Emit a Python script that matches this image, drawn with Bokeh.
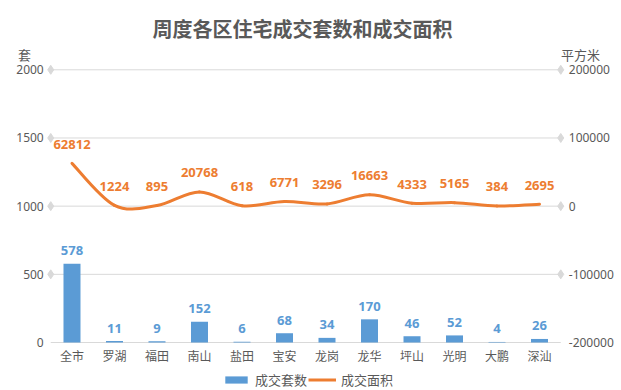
from bokeh.plotting import figure
from bokeh.models import Range1d, ColumnDataSource, Label, Legend, LegendItem
from bokeh.embed import file_html
from bokeh.resources import INLINE
from bokeh.core.properties import value

# ---- data ----
districts = ["全市", "罗湖", "福田", "南山", "盐田", "宝安", "龙岗", "龙华", "坪山", "光明", "大鹏", "深汕"]
units = [578, 11, 9, 152, 6, 68, 34, 170, 46, 52, 4, 26]          # 成交套数
area = [62812, 1224, 895, 20768, 618, 6771, 3296, 16663, 4333, 5165, 384, 2695]  # 成交面积
left_ticks = [0, 500, 1000, 1500, 2000]
right_ticks = [-200000, -100000, 0, 100000, 200000]
title_text = "周度各区住宅成交套数和成交面积"
left_unit = "套"
right_unit = "平方米"
series_names = ["成交套数", "成交面积"]

# ---- styles ----
BLUE = "#5B9BD5"
ORANGE = "#ED7D31"
GRAY_TXT = "#595959"
GRID = "#D9D9D9"
CJK = "Noto Sans CJK SC"
NUM = "Noto Sans"
W, H = 621, 390

n = len(districts)
xs = list(range(n))

# frame covers the whole canvas; axes drawn as text through the scales
p = figure(width=W, height=H, output_backend="svg", toolbar_location=None,
           x_range=Range1d(-1.682, 12.929), y_range=Range1d(-352.0, 2508.3),
           x_axis_type=None, y_axis_type=None,
           min_border=0, min_border_left=0, min_border_right=0,
           min_border_top=0, min_border_bottom=0)
p.extra_y_ranges = {"area": Range1d(-270400, 301660)}
p.outline_line_color = None
p.background_fill_color = "white"
p.border_fill_color = "white"

x_lo, x_hi = -0.5, n - 0.5

# gridlines with diamond ends
p.segment(x0=[x_lo] * len(left_ticks), x1=[x_hi] * len(left_ticks),
          y0=left_ticks, y1=left_ticks, line_color=GRID, line_width=1)
dia_y = [t for t in left_ticks if t > 0]
p.scatter(x=[x_lo] * len(dia_y) + [x_hi] * len(dia_y), y=dia_y + dia_y,
          marker="diamond", size=9, fill_color=GRID, line_color=GRID)

# left tick labels
p.text(x=[x_lo] * len(left_ticks), y=left_ticks, text=[str(t) for t in left_ticks],
       x_offset=-7, text_align="right", text_baseline="middle",
       text_font=value(NUM), text_font_size="12px", text_color=GRAY_TXT)
# right tick labels
p.text(x=[x_hi] * len(right_ticks), y=right_ticks, text=[str(t) for t in right_ticks],
       x_offset=8, text_align="left", text_baseline="middle", y_range_name="area",
       text_font=value(NUM), text_font_size="12px", text_color=GRAY_TXT)
# category labels
p.text(x=xs, y=[0] * n, text=districts, y_offset=13, text_align="center",
       text_baseline="middle", text_font=value(CJK), text_font_size="12px",
       text_color=GRAY_TXT)

# bars
src = ColumnDataSource(dict(x=xs, units=units, units_txt=[str(u) for u in units],
                            area=area, area_txt=[str(a) for a in area]))
bars = p.vbar(x="x", top="units", width=0.4, source=src, fill_color=BLUE, line_color=None)
p.text(x="x", y="units", text="units_txt", source=src, text_align="center",
       text_baseline="middle", y_offset=-13, text_font=value(NUM),
       text_font_style="bold", text_font_size="13px", text_color=BLUE)

# smooth line (Catmull-Rom -> cubic Bezier segments)
bz = dict(x0=[], y0=[], x1=[], y1=[], cx0=[], cy0=[], cx1=[], cy1=[])
for i in range(n - 1):
    a = i - 1 if i > 0 else i
    d = i + 2 if i + 2 < n else i + 1
    bz["x0"].append(xs[i]); bz["y0"].append(area[i])
    bz["x1"].append(xs[i + 1]); bz["y1"].append(area[i + 1])
    bz["cx0"].append(xs[i] + (xs[i + 1] - xs[a]) / 6)
    bz["cy0"].append(area[i] + (area[i + 1] - area[a]) / 6)
    bz["cx1"].append(xs[i + 1] - (xs[d] - xs[i]) / 6)
    bz["cy1"].append(area[i + 1] - (area[d] - area[i]) / 6)
p.bezier(source=ColumnDataSource(bz), x0="x0", y0="y0", x1="x1", y1="y1",
         cx0="cx0", cy0="cy0", cx1="cx1", cy1="cy1",
         line_color=ORANGE, line_width=3, line_cap="round", y_range_name="area")
nan = float("nan")
legend_line = p.line(x=[nan, nan], y=[nan, nan], line_color=ORANGE, line_width=3)
p.text(x="x", y="area", text="area_txt", source=src, text_align="center",
       text_baseline="middle", y_offset=-19, text_font=value(NUM),
       text_font_style="bold", text_font_size="13px", text_color=ORANGE,
       y_range_name="area")

# title / unit labels (screen units from canvas bottom-left)
p.add_layout(Label(x=302, y=H - 28, x_units="screen", y_units="screen", text=title_text,
                   text_align="center", text_baseline="middle", text_font=CJK,
                   text_font_size="20px", text_font_style="bold", text_color=GRAY_TXT))
p.add_layout(Label(x=24, y=H - 54, x_units="screen", y_units="screen", text=left_unit,
                   text_align="center", text_baseline="middle", text_font=CJK,
                   text_font_size="13px", text_color=GRAY_TXT))
p.add_layout(Label(x=580, y=H - 54, x_units="screen", y_units="screen", text=right_unit,
                   text_align="center", text_baseline="middle", text_font=CJK,
                   text_font_size="13px", text_color=GRAY_TXT))

legend = Legend(items=[LegendItem(label=series_names[0], renderers=[bars]),
                       LegendItem(label=series_names[1], renderers=[legend_line])],
                location=(222, 1), orientation="horizontal",
                glyph_width=28, glyph_height=9, label_height=13, label_standoff=5,
                spacing=1, padding=0, margin=0, border_line_alpha=0,
                background_fill_alpha=0, label_text_font=CJK,
                label_text_font_size="13px", label_text_color=GRAY_TXT)
p.add_layout(legend)

open("out.html", "w").write(file_html(p, INLINE))
